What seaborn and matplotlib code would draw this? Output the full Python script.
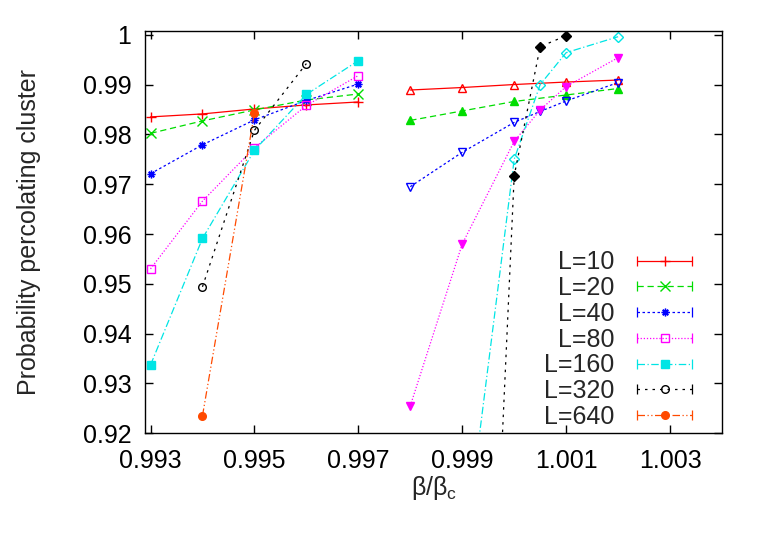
import numpy as np
import pandas as pd
import matplotlib
matplotlib.use("Agg")
import matplotlib.pyplot as plt
from matplotlib.lines import Line2D
from matplotlib.legend_handler import HandlerLine2D, HandlerTuple
import seaborn as sns

# Datos
sizes = ["L=10", "L=20", "L=40", "L=80", "L=160", "L=320", "L=640"]

x_left = [0.993, 0.994, 0.995, 0.996, 0.997]
y10_left = [0.9835, 0.9841, 0.9851, 0.9859, 0.9865]
y20_left = [0.9802, 0.9827, 0.9849, 0.9869, 0.9881]
y40_left = [0.9721, 0.9779, 0.9829, 0.9868, 0.9901]
y80_left = [0.9530, 0.9666, 0.9773, 0.9858, 0.9918]
y160_left = [0.9337, 0.9591, 0.9768, 0.9880, 0.9948]
x320_left = [0.994, 0.995, 0.996]
y320_left = [0.9494, 0.9808, 0.9942]
x640_left = [0.994, 0.995]
y640_left = [0.9235, 0.9842]

x_right5 = [0.998, 0.999, 1.000, 1.001, 1.002]
y10_right = [0.9889, 0.9894, 0.9900, 0.9905, 0.9909]
y20_right = [0.9828, 0.9847, 0.9866, 0.9879, 0.9892]
x_right6 = [0.998, 0.999, 1.000, 1.0005, 1.001, 1.002]
y40_right = [0.9695, 0.9764, 0.9824, 0.9846, 0.9867, 0.9904]
y80_right = [0.9255, 0.9580, 0.9786, 0.9849, 0.9896, 0.9954]
x160_right = [0.999, 1.000, 1.0005, 1.001, 1.002]
y160_right = [0.8923, 0.9750, 0.9900, 0.9964, 0.9996]
x320_right = [0.9995, 1.000, 1.0005, 1.001]
y320_right = [0.857, 0.9717, 0.9976, 0.9998]

left = [(x_left, y10_left), (x_left, y20_left), (x_left, y40_left), (x_left, y80_left),
        (x_left, y160_left), (x320_left, y320_left), (x640_left, y640_left)]
right = [(x_right5, y10_right), (x_right5, y20_right), (x_right6, y40_right),
         (x_right6, y80_right), (x160_right, y160_right), (x320_right, y320_right), None]

# Estilo tipo gnuplot
colors = ["#ff0000", "#00dd00", "#0000ff", "#ff00ff", "#00e5e5", "#000000", "#ff4a00"]
styles = ["-", (0, (5, 3)), (0, (2, 2)), (0, (1, 1.5)), (0, (6, 2, 1, 2)),
          (0, (2, 4)), (0, (6, 2, 1, 2, 1, 2))]
m_left = [("+", True), ("x", True), ((8, 2, 0), True), ("s", False), ("s", True),
          ("o", False), ("o", True)]
m_right = [("^", False), ("^", True), ("v", False), ("v", True), ("D", False), ("D", True), None]

sns.set_style("ticks")
plt.rcParams["font.family"] = ["Liberation Sans", "DejaVu Sans"]
plt.rcParams["mathtext.fontset"] = "custom"
plt.rcParams["mathtext.rm"] = "Liberation Sans"

fig = plt.figure(figsize=(7.66, 5.36), dpi=100)
ax = fig.add_axes([0.1897, 0.1916, 0.7529, 0.7511])


def msize(mk):
    return 6.5 if mk in ("+", "x") else 5.5


def draw(xs, ys, color, ls, marker, filled):
    df = pd.DataFrame({"x": xs, "y": ys})
    sns.lineplot(data=df, x="x", y="y", ax=ax, color=color, linestyle=ls, lw=0.9,
                 marker=marker, markersize=msize(marker),
                 markerfacecolor=color if filled else "none",
                 markeredgecolor=color, markeredgewidth=1.0,
                 estimator=None, sort=False, errorbar=None, legend=False)


handles = []
hmap = {}
for i, lab in enumerate(sizes):
    xs, ys = left[i]
    mk, filled = m_left[i]
    draw(xs, ys, colors[i], styles[i], mk, filled)
    if right[i] is not None:
        xr, yr = right[i]
        mk2, filled2 = m_right[i]
        draw(xr, yr, colors[i], styles[i], mk2, filled2)
    # leyenda estilo gnuplot: linea con topes y simbolo al centro
    caps = Line2D([0], [0], color=colors[i], linestyle=styles[i], lw=0.9,
                  marker="|", markersize=7, markeredgewidth=0.9)
    mark = Line2D([0], [0], color=colors[i], linestyle="none", marker=mk,
                  markersize=msize(mk), markeredgewidth=1.0,
                  markerfacecolor=colors[i] if filled else "none",
                  markeredgecolor=colors[i])
    hmap[caps] = HandlerLine2D(numpoints=2)
    hmap[mark] = HandlerLine2D(numpoints=1)
    handles.append((caps, mark))
hmap[tuple] = HandlerTuple(ndivide=1)

ax.set_xlim(0.9929, 1.004)
ax.set_ylim(0.92, 1.0008)
ax.set_xticks([0.993, 0.995, 0.997, 0.999, 1.001, 1.003])
ax.set_yticks(np.round(np.arange(0.92, 1.0001, 0.01), 2))
ax.yaxis.set_major_formatter(matplotlib.ticker.FormatStrFormatter("%g"))
ax.xaxis.set_major_formatter(matplotlib.ticker.FormatStrFormatter("%g"))
ax.tick_params(direction="in", top=True, right=True, length=6, width=1,
               labelsize=18, colors="black")
ax.tick_params(axis="x", pad=11)
ax.tick_params(axis="y", pad=10)
for s in ax.spines.values():
    s.set_linewidth(1.0)
    s.set_color("black")

ax.set_xlabel("β/β$_\\mathregular{c}$", fontsize=18, labelpad=1)
ax.set_ylabel("Probability percolating cluster", fontsize=18, labelpad=30)

ax.legend(handles, sizes, loc="lower right", bbox_to_anchor=(0.983, -0.02),
          frameon=False, markerfirst=False, handlelength=2.8,
          handletextpad=0.6, labelspacing=0.07, fontsize=18, borderpad=0,
          handler_map=hmap)

fig.savefig("out.png", dpi=100)
